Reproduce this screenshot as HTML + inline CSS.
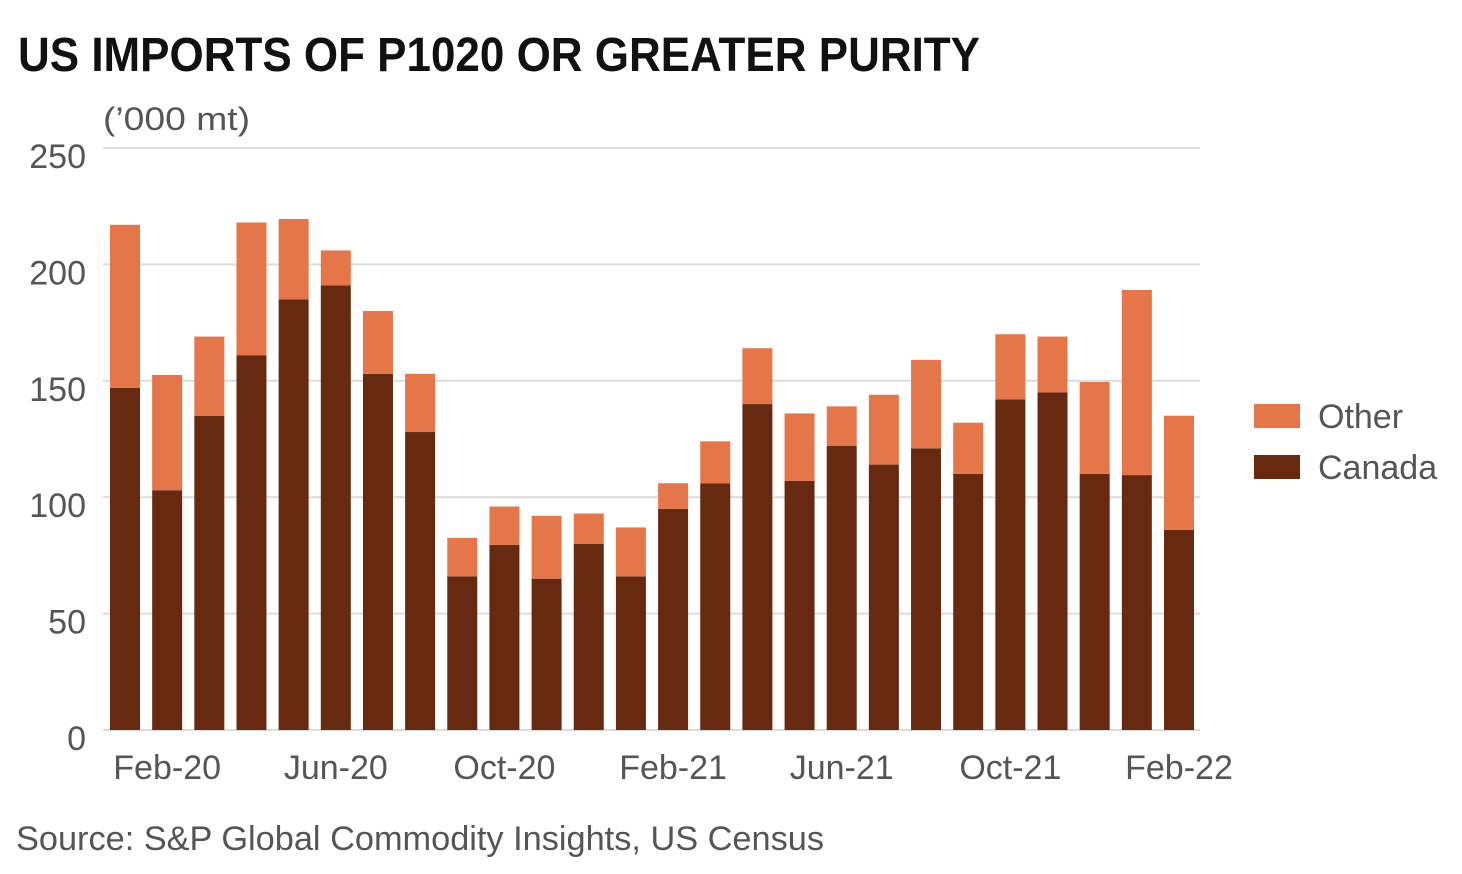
<!DOCTYPE html>
<html><head><meta charset="utf-8"><style>
body{margin:0;background:#fff;}
svg{display:block;font-family:"Liberation Sans",sans-serif;}
</style></head><body>
<svg id="chart" width="1462" height="874">
<text x="18" y="71" font-size="48" font-weight="bold" fill="#111" textLength="962" lengthAdjust="spacingAndGlyphs">US IMPORTS OF P1020 OR GREATER PURITY</text>
<text x="103" y="130" font-size="32" fill="#555" textLength="147" lengthAdjust="spacingAndGlyphs">(’000 mt)</text>
<g id="grid"></g><g id="bars"></g><g id="ylabels"></g><g id="xlabels"></g>
<g>
<rect x="1254" y="404" width="46" height="24" fill="#E5764A"/>
<text x="1318" y="428" font-size="34" fill="#555">Other</text>
<rect x="1254" y="455" width="46" height="24" fill="#672A10"/>
<text x="1318" y="479" font-size="34" fill="#555">Canada</text>
</g>
<text x="16" y="850" font-size="34" fill="#555" textLength="808" lengthAdjust="spacingAndGlyphs">Source: S&amp;P Global Commodity Insights, US Census</text>
</svg>
<script>
const months=["Jan-20","Feb-20","Mar-20","Apr-20","May-20","Jun-20","Jul-20","Aug-20","Sep-20","Oct-20","Nov-20","Dec-20","Jan-21","Feb-21","Mar-21","Apr-21","May-21","Jun-21","Jul-21","Aug-21","Sep-21","Oct-21","Nov-21","Dec-21","Jan-22","Feb-22"];
const canada=[147,103,135,161,185,191,153,128,66,79.5,65,80,66,95,106,140,107,122,114,121,110,142,145,110,109.5,86];
const other=[70,49.5,34,57,34.5,15,27,25,16.5,16.5,27,13,21,11,18,24,29,17,30,38,22,28,24,39.5,79.5,49];
const yTicks=[0,50,100,150,200,250];
const xTickIdx=[1,5,9,13,17,21,25];
const NS="http://www.w3.org/2000/svg";
const y=v=>730-v*2.328;
const x=i=>125+i*42.16;
function mk(t,a,p){const e=document.createElementNS(NS,t);for(const k in a)e.setAttribute(k,a[k]);p.appendChild(e);return e;}
const g=document.getElementById('grid'),b=document.getElementById('bars'),yl=document.getElementById('ylabels'),xl=document.getElementById('xlabels');
yTicks.forEach(v=>{
  if(v>0){const l=mk('line',{x1:103,x2:1200,y1:y(v),y2:y(v),stroke:'#dcdcdc','stroke-width':2},g);
  
  }
  const t=mk('text',{x:86,y:y(v)+20,'font-size':34,fill:'#555','text-anchor':'end'},yl);
  t.textContent=v;
  
  
});
const base=mk('line',{x1:103,x2:1200,y1:730,y2:730,stroke:'#dcdcdc','stroke-width':2},g);


months.forEach((m,i)=>{
  const c=mk('rect',{x:x(i)-15,y:y(canada[i]),width:30,height:y(0)-y(canada[i]),fill:'#672A10'},b);
  
  
  const o=mk('rect',{x:x(i)-15,y:y(canada[i]+other[i]),width:30,height:y(canada[i])-y(canada[i]+other[i]),fill:'#E5764A'},b);
  
  
});
xTickIdx.forEach(i=>{
  const t=mk('text',{x:x(i),y:779,'font-size':34,fill:'#555','text-anchor':'middle'},xl);
  t.textContent=months[i];
  
  
});
</script>
</body></html>
